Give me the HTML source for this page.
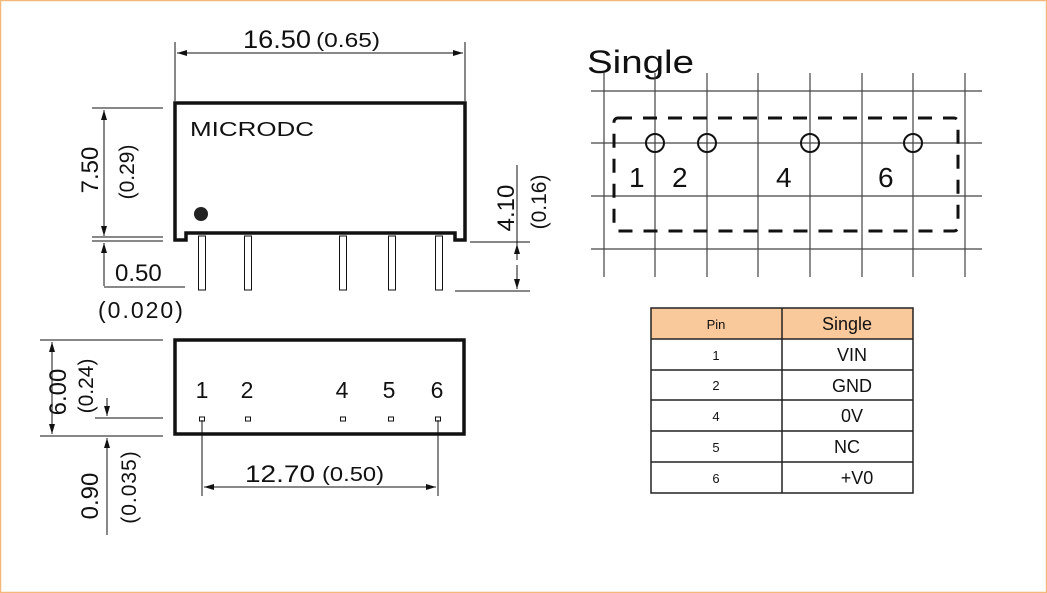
<!DOCTYPE html>
<html><head><meta charset="utf-8"><style>
html,body{margin:0;padding:0;background:#fff}
svg{display:block}
text{font-family:"Liberation Sans",Arial,sans-serif;fill:#111}
</style></head><body>
<svg width="1047" height="593" viewBox="0 0 1047 593" xmlns="http://www.w3.org/2000/svg">
<defs>
<marker id="a" viewBox="0 0 10 6" refX="10" refY="3" markerWidth="10" markerHeight="6" orient="auto-start-reverse" markerUnits="userSpaceOnUse"><path d="M0,0 L10,3 L0,6 Z" fill="#111"/></marker>
</defs>
<rect x="0.5" y="0.5" width="1046" height="592" fill="none" stroke="#f3b87a" stroke-width="1.5"/>
<g stroke="#111" stroke-width="1" fill="none">
<line x1="175" y1="42" x2="175" y2="101"/><line x1="465" y1="42" x2="465" y2="101"/>
<line x1="177" y1="53" x2="463" y2="53" marker-start="url(#a)" marker-end="url(#a)"/>
<line x1="92" y1="108" x2="163" y2="108"/>
<line x1="92" y1="237" x2="163" y2="237"/><line x1="92" y1="241" x2="163" y2="241"/>
<line x1="104" y1="110" x2="104" y2="236" marker-start="url(#a)" marker-end="url(#a)"/>
<line x1="104" y1="286" x2="104" y2="243" marker-end="url(#a)"/>
<line x1="104" y1="287" x2="185" y2="287"/>
<line x1="470" y1="242" x2="530" y2="242"/>
<line x1="455" y1="291" x2="530" y2="291"/>
<line x1="517" y1="165" x2="517" y2="244" />
<line x1="517" y1="260" x2="517" y2="244" marker-end="url(#a)"/>
<line x1="517" y1="265" x2="517" y2="289" marker-end="url(#a)"/>
<rect x="198.5" y="236" width="7" height="54"/><rect x="244.5" y="236" width="7" height="54"/>
<rect x="339.5" y="236" width="7" height="54"/><rect x="388.5" y="236" width="7" height="54"/>
<rect x="435.5" y="236" width="7" height="54"/>
<line x1="40" y1="340" x2="163" y2="340"/><line x1="95" y1="418" x2="163" y2="418"/><line x1="40" y1="436" x2="163" y2="436"/>
<line x1="52" y1="342" x2="52" y2="434" marker-start="url(#a)" marker-end="url(#a)"/>
<line x1="107" y1="398" x2="107" y2="416" marker-end="url(#a)"/>
<line x1="107" y1="535" x2="107" y2="438" marker-end="url(#a)"/>
<line x1="202" y1="420" x2="202" y2="496"/><line x1="438" y1="420" x2="438" y2="496"/>
<line x1="204" y1="487" x2="436" y2="487" marker-start="url(#a)" marker-end="url(#a)"/>
</g>
<path d="M175,103 H465 V240 H455 V233 H186 V240 H175 Z" fill="none" stroke="#111" stroke-width="3.5"/>
<circle cx="201" cy="214" r="7" fill="#222"/>
<text x="190" y="136" font-size="20" textLength="124" lengthAdjust="spacingAndGlyphs">MICRODC</text>
<text x="243" y="48" font-size="25" textLength="68" lengthAdjust="spacingAndGlyphs">16.50</text><text x="316" y="47" font-size="20" textLength="64" lengthAdjust="spacingAndGlyphs">(0.65)</text>
<text transform="translate(98,170) rotate(-90)" font-size="24" text-anchor="middle">7.50</text>
<text transform="translate(134,172) rotate(-90)" font-size="21" text-anchor="middle">(0.29)</text>
<text x="115" y="281" font-size="24">0.50</text>
<text x="98" y="318" font-size="23" letter-spacing="2">(0.020)</text>
<text transform="translate(514,208) rotate(-90)" font-size="24" text-anchor="middle">4.10</text>
<text transform="translate(546,202) rotate(-90)" font-size="21" text-anchor="middle">(0.16)</text>
<rect x="175" y="340" width="289" height="94" fill="none" stroke="#111" stroke-width="3.5"/>
<g font-size="23" text-anchor="middle"><text x="202" y="398">1</text><text x="247" y="398">2</text><text x="342" y="398">4</text><text x="389" y="398">5</text><text x="437" y="398">6</text></g>
<g fill="none" stroke="#111" stroke-width="1"><rect x="199.5" y="417" width="5" height="4"/><rect x="245.5" y="417" width="5" height="4"/><rect x="340.5" y="417" width="5" height="4"/><rect x="388.5" y="417" width="5" height="4"/><rect x="435.5" y="417" width="5" height="4"/></g>
<text transform="translate(66,392) rotate(-90)" font-size="24" text-anchor="middle">6.00</text>
<text transform="translate(93,386) rotate(-90)" font-size="21" text-anchor="middle">(0.24)</text>
<text transform="translate(98,496) rotate(-90)" font-size="24" text-anchor="middle">0.90</text>
<text transform="translate(136,487) rotate(-90)" font-size="21" text-anchor="middle" letter-spacing="1">(0.035)</text>
<text x="245" y="482" font-size="24" textLength="70" lengthAdjust="spacingAndGlyphs">12.70</text><text x="322" y="481" font-size="20" textLength="62" lengthAdjust="spacingAndGlyphs">(0.50)</text>
<text x="587" y="73" font-size="32" fill="#222" textLength="107" lengthAdjust="spacingAndGlyphs">Single</text>
<g stroke="#444" stroke-width="1.2">
<line x1="604" y1="73" x2="604" y2="277"/><line x1="655" y1="73" x2="655" y2="277"/><line x1="707" y1="73" x2="707" y2="277"/><line x1="758" y1="73" x2="758" y2="277"/><line x1="810" y1="73" x2="810" y2="277"/><line x1="862" y1="73" x2="862" y2="277"/><line x1="913" y1="73" x2="913" y2="277"/><line x1="965" y1="73" x2="965" y2="277"/>
<line x1="591" y1="91" x2="982" y2="91"/><line x1="591" y1="143" x2="982" y2="143"/><line x1="591" y1="196" x2="982" y2="196"/><line x1="591" y1="249" x2="982" y2="249"/>
</g>
<rect x="614" y="118" width="344" height="113" rx="4" fill="none" stroke="#111" stroke-width="3" stroke-dasharray="14,11"/>
<g fill="none" stroke="#111" stroke-width="2"><circle cx="655" cy="143" r="9"/><circle cx="707" cy="143" r="9"/><circle cx="810" cy="143" r="9"/><circle cx="913" cy="143" r="9"/></g>
<g font-size="28"><text x="629" y="187">1</text><text x="672" y="187">2</text><text x="776" y="187">4</text><text x="878" y="187">6</text></g>
<rect x="651" y="308" width="262" height="31" fill="#f9c99c"/>
<g stroke="#222" stroke-width="1.5" fill="none">
<rect x="651" y="308" width="262" height="185"/>
<line x1="782" y1="308" x2="782" y2="493"/>
<line x1="651" y1="339" x2="913" y2="339"/><line x1="651" y1="370" x2="913" y2="370"/><line x1="651" y1="400" x2="913" y2="400"/><line x1="651" y1="431" x2="913" y2="431"/><line x1="651" y1="462" x2="913" y2="462"/>
</g>
<g text-anchor="middle" font-size="13"><text x="716" y="329">Pin</text><text x="716" y="360">1</text><text x="716" y="390">2</text><text x="716" y="421">4</text><text x="716" y="452">5</text><text x="716" y="483">6</text></g>
<g text-anchor="middle" font-size="18"><text x="847" y="330">Single</text><text x="852" y="361">VIN</text><text x="852" y="392">GND</text><text x="852" y="422">0V</text><text x="847" y="453">NC</text><text x="857" y="484">+V0</text></g>
</svg>
</body></html>
